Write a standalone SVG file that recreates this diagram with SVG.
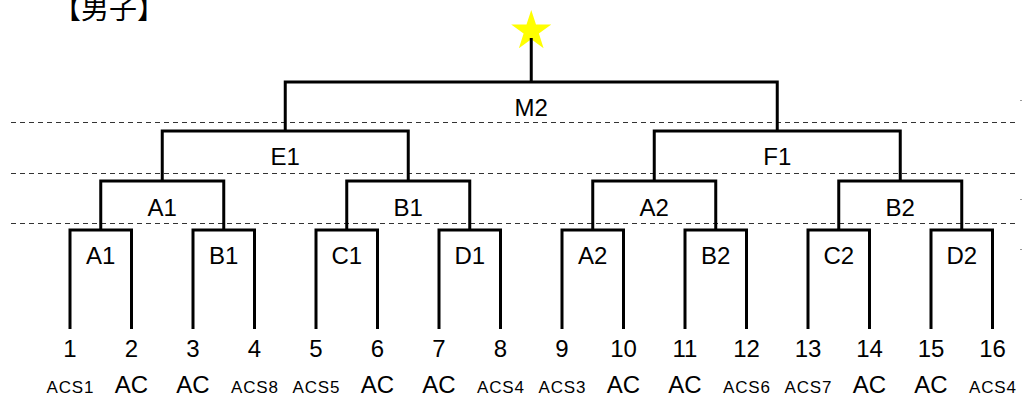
<svg xmlns="http://www.w3.org/2000/svg" width="1022" height="396" viewBox="0 0 1022 396">
  <style>
    .br { fill: none; stroke: #000; stroke-width: 3; stroke-linejoin: miter; stroke-linecap: butt; }
    .dash { stroke: #333; stroke-width: 1; stroke-dasharray: 5 4; fill: none; }
    .tick { stroke: #999; stroke-width: 1; }
    .lbl { font-family: "Liberation Sans", Arial, sans-serif; font-size: 24px; fill: #000; text-anchor: middle; }
    .num { font-family: "Liberation Sans", Arial, sans-serif; font-size: 24px; fill: #000; text-anchor: middle; }
    .acs { font-family: "Liberation Sans", Arial, sans-serif; font-size: 17px; fill: #000; text-anchor: middle; }
    .ac { font-family: "Liberation Sans", Arial, sans-serif; font-size: 24px; fill: #000; text-anchor: middle; }
    .title { font-family: "Noto Sans CJK JP", "Noto Sans CJK SC", sans-serif; font-size: 28px; fill: #000; }
  </style>
  <rect width="1022" height="396" fill="#fff"/>

  <g id="title"><text class="title" x="53" y="18.5">【男子】</text></g>

  <g id="guides">
    <line class="dash" x1="11" y1="122.5" x2="1017" y2="122.5"/>
    <line class="dash" x1="11" y1="173.5" x2="1017" y2="173.5"/>
    <line class="dash" x1="11" y1="223.5" x2="1017" y2="223.5"/>
    <line class="tick" x1="1020" y1="100.5" x2="1022" y2="100.5"/>
    <line class="tick" x1="1020" y1="199.5" x2="1022" y2="199.5"/>
    <line class="tick" x1="1020" y1="249.5" x2="1022" y2="249.5"/>
  </g>

  <g id="star">
    <polygon fill="#ffff00" points="531.25,10 536,24.6 551.3,24.6 538.9,33.6 543.6,48.2 531.25,39.2 518.9,48.2 523.6,33.6 511.2,24.6 526.5,24.6"/>
  </g>

  <g id="connectors">
    <!-- round 1 -->
    <path class="br" d="M70,329 V230 H131.5 V329"/>
    <path class="br" d="M193,329 V230 H254.5 V329"/>
    <path class="br" d="M316,329 V230 H377.5 V329"/>
    <path class="br" d="M439,329 V230 H500.5 V329"/>
    <path class="br" d="M562,329 V230 H623.5 V329"/>
    <path class="br" d="M685,329 V230 H746.5 V329"/>
    <path class="br" d="M808,329 V230 H869.5 V329"/>
    <path class="br" d="M931,329 V230 H992.5 V329"/>
    <!-- round 2 -->
    <path class="br" d="M100.75,230 V181 H223.75 V230"/>
    <path class="br" d="M346.75,230 V181 H469.75 V230"/>
    <path class="br" d="M592.75,230 V181 H715.75 V230"/>
    <path class="br" d="M838.75,230 V181 H961.75 V230"/>
    <!-- round 3 -->
    <path class="br" d="M162.25,181 V131 H408.25 V181"/>
    <path class="br" d="M654.25,181 V131 H900.25 V181"/>
    <!-- final -->
    <path class="br" d="M285.25,131 V82 H777.25 V131"/>
    <path class="br" d="M531.25,82 V38"/>
  </g>

  <g id="match-r1">
    <text class="lbl" x="100.75" y="264">A1</text>
    <text class="lbl" x="223.75" y="264">B1</text>
    <text class="lbl" x="346.75" y="264">C1</text>
    <text class="lbl" x="469.75" y="264">D1</text>
    <text class="lbl" x="592.75" y="264">A2</text>
    <text class="lbl" x="715.75" y="264">B2</text>
    <text class="lbl" x="838.75" y="264">C2</text>
    <text class="lbl" x="961.75" y="264">D2</text>
  </g>
  <g id="match-r2">
    <text class="lbl" x="162.25" y="216">A1</text>
    <text class="lbl" x="408.25" y="216">B1</text>
    <text class="lbl" x="654.25" y="216">A2</text>
    <text class="lbl" x="900.25" y="216">B2</text>
  </g>
  <g id="match-r3">
    <text class="lbl" x="285.25" y="165">E1</text>
    <text class="lbl" x="777.25" y="165">F1</text>
  </g>
  <g id="match-final">
    <text class="lbl" x="531.25" y="116">M2</text>
  </g>

  <g id="numbers">
    <text class="num" x="70" y="357">1</text>
    <text class="num" x="131.5" y="357">2</text>
    <text class="num" x="193" y="357">3</text>
    <text class="num" x="254.5" y="357">4</text>
    <text class="num" x="316" y="357">5</text>
    <text class="num" x="377.5" y="357">6</text>
    <text class="num" x="439" y="357">7</text>
    <text class="num" x="500.5" y="357">8</text>
    <text class="num" x="562" y="357">9</text>
    <text class="num" x="623.5" y="357">10</text>
    <text class="num" x="685" y="357">11</text>
    <text class="num" x="746.5" y="357">12</text>
    <text class="num" x="808" y="357">13</text>
    <text class="num" x="869.5" y="357">14</text>
    <text class="num" x="931" y="357">15</text>
    <text class="num" x="992.5" y="357">16</text>
  </g>

  <g id="seeds">
    <text class="acs" x="70" y="393" textLength="47" lengthAdjust="spacing">ACS1</text>
    <text class="ac" x="131.5" y="393">AC</text>
    <text class="ac" x="193" y="393">AC</text>
    <text class="acs" x="254.5" y="393" textLength="47" lengthAdjust="spacing">ACS8</text>
    <text class="acs" x="316" y="393" textLength="47" lengthAdjust="spacing">ACS5</text>
    <text class="ac" x="377.5" y="393">AC</text>
    <text class="ac" x="439" y="393">AC</text>
    <text class="acs" x="500.5" y="393" textLength="47" lengthAdjust="spacing">ACS4</text>
    <text class="acs" x="562" y="393" textLength="47" lengthAdjust="spacing">ACS3</text>
    <text class="ac" x="623.5" y="393">AC</text>
    <text class="ac" x="685" y="393">AC</text>
    <text class="acs" x="746.5" y="393" textLength="47" lengthAdjust="spacing">ACS6</text>
    <text class="acs" x="808" y="393" textLength="47" lengthAdjust="spacing">ACS7</text>
    <text class="ac" x="869.5" y="393">AC</text>
    <text class="ac" x="931" y="393">AC</text>
    <text class="acs" x="992.5" y="393" textLength="47" lengthAdjust="spacing">ACS4</text>
  </g>
</svg>
